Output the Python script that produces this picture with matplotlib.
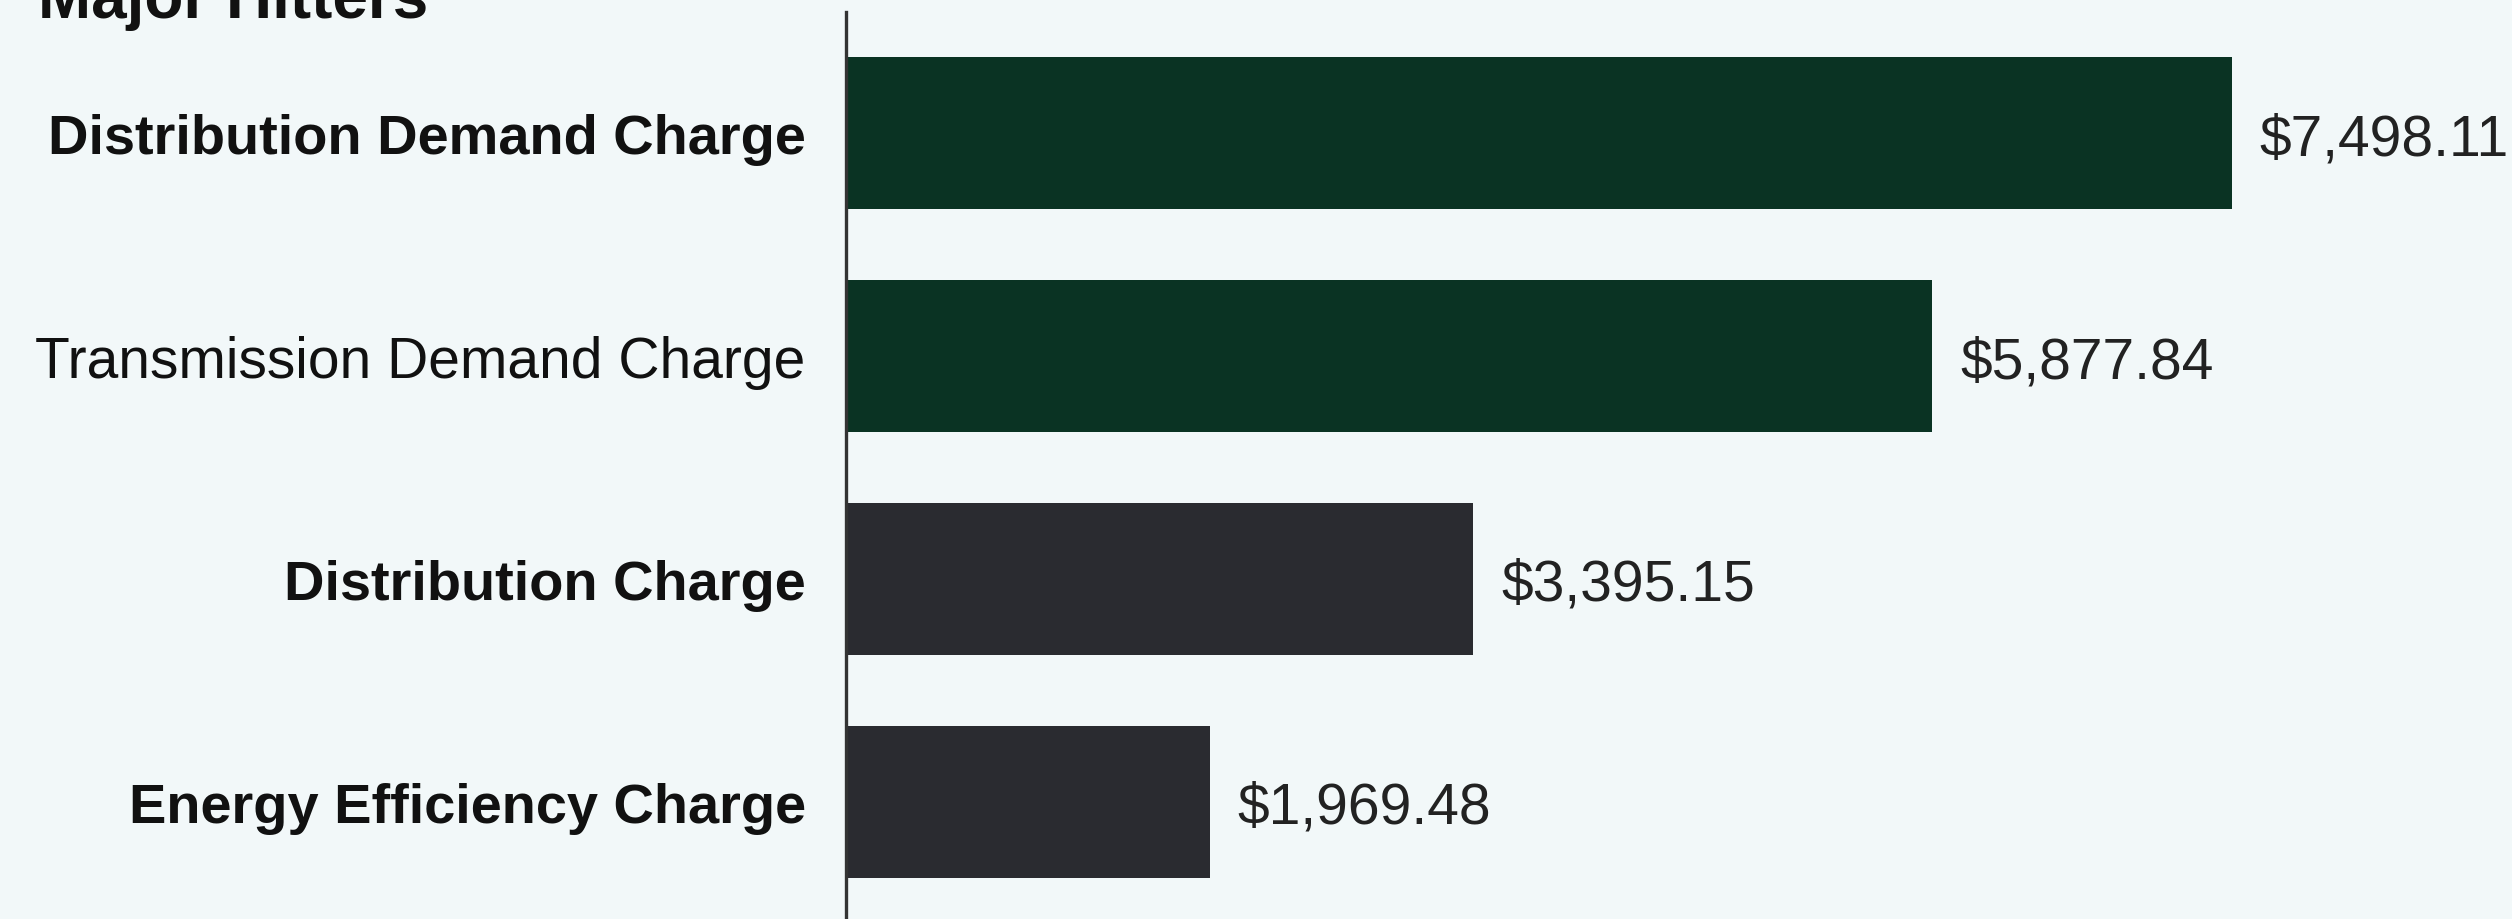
import matplotlib
matplotlib.use("Agg")
import matplotlib.pyplot as plt

categories = ["Distribution Demand Charge", "Transmission Demand Charge",
              "Distribution Charge", "Energy Efficiency Charge"]
values = [7498.11, 5877.84, 3395.15, 1969.48]
bold_labels = [True, False, True, True]
bar_colors = ["#0a3323", "#0a3323", "#2a2b30", "#2a2b30"]
title = "Major Hitters"

W, H = 2512, 920
fig = plt.figure(figsize=(W / 100, H / 100), dpi=100)
bg = "#f2f8f9"
fig.patch.set_facecolor(bg)
plt.rcParams['font.family'] = ['Liberation Sans', 'DejaVu Sans']

ax_left = 846 / W
ax_top = 1 - 13 / H
ax = fig.add_axes([ax_left, 0.0, 1.0 - ax_left, ax_top])
ax.set_facecolor(bg)

ypos = list(range(len(categories)))
bars = ax.barh(ypos, values, height=0.68, color=bar_colors)

ax.set_xlim(0, (W - 846) / 0.1848)
ax.set_ylim(3.525, -0.543)

for s in ["top", "right", "bottom"]:
    ax.spines[s].set_visible(False)
ax.spines["left"].set_linewidth(2.4)
ax.spines["left"].set_color("#333333")
ax.set_xticks([])
ax.set_yticks(ypos)
ax.set_yticklabels(categories, fontsize=41, color="#111111")
for lbl, b in zip(ax.get_yticklabels(), bold_labels):
    if b:
        lbl.set_fontweight("bold")
        lbl.set_fontsize(40.3)
    else:
        lbl.set_fontweight("normal")
ax.tick_params(axis="y", length=0, pad=29)

labels = [f"${v:,.2f}" for v in values]
for i, (v, t) in enumerate(zip(values, labels)):
    ax.annotate(t, xy=(v, i), xytext=(20, 0), textcoords="offset points",
                va="center_baseline", ha="left", fontsize=41, color="#222222")

fig.text(38 / W, 1 - 18 / H, title, fontsize=46, fontweight="bold",
         color="#111111", ha="left", va="baseline")

fig.savefig("out.png", dpi=100, facecolor=bg)
